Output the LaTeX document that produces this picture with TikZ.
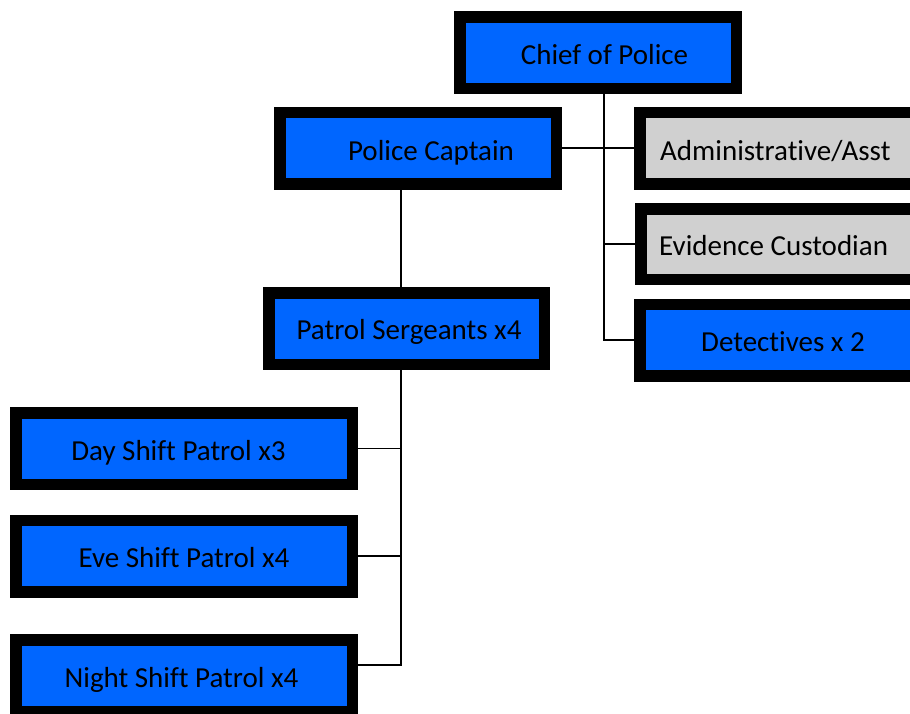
\documentclass[tikz,border=0pt]{standalone}
\usepackage{fontspec}
\setmainfont{Carlito}[Ligatures=NoCommon]
\definecolor{boxblue}{HTML}{0066FF}
\definecolor{boxgray}{HTML}{D0D0D0}
\begin{document}
\begin{tikzpicture}[x=1pt,y=-1pt,
  orgbox/.style={draw=black,line width=11.5pt,fill=boxblue,inner sep=0pt,minimum height=71.5pt},
  graybox/.style={orgbox,fill=boxgray},
  lbl/.style={anchor=base,inner sep=0pt,font=\fontsize{29}{34}\selectfont,text=black},
  lblL/.style={anchor=base west,inner sep=0pt,font=\fontsize{29}{34}\selectfont,text=black},
  conn/.style={draw=black,line width=1.8pt}]
\useasboundingbox (0,0) rectangle (910,713);
\clip (0,0) rectangle (910,713);
% boxes
\node[orgbox,minimum width=276.5pt] (chief) at (598,52.5) {};
\node[orgbox,minimum width=276.5pt] (capt) at (418,148) {};
\node[graybox,minimum width=276.5pt] (admin) at (778,148) {};
\node[graybox,minimum width=276.5pt,minimum height=70.5pt] (ev) at (779,244) {};
\node[orgbox,minimum width=276.5pt] (det) at (778,340) {};
\node[orgbox,minimum width=275.5pt] (serg) at (406.5,328.5) {};
\node[orgbox,minimum width=336.5pt] (day) at (184,448.5) {};
\node[orgbox,minimum width=336.5pt] (eve) at (184,556) {};
\node[orgbox,minimum width=336.5pt] (night) at (184,675.5) {};
% labels
\node[lbl] (tchief) at (604.5,64) {Chief of Police};
\node[lbl] (tcapt) at (431,160) {Police Captain};
\node[lblL] (tadmin) at (660,160) {Administrative/Asst};
\node[lblL] (tev) at (659,255) {Evidence Custodian};
\node[lbl] (tdet) at (783,351) {Detectives x 2};
\node[lbl] (tserg) at (409,339) {Patrol Sergeants x4};
\node[lbl] (tday) at (178.5,460) {Day Shift Patrol x3};
\node[lbl] (teve) at (184,567) {Eve Shift Patrol x4};
\node[lbl] (tnight) at (181.5,687) {Night Shift Patrol x4};
% connectors
\coordinate (cx) at (604,0);
\coordinate (sx) at (401,0);
\draw[conn] (chief.south -| cx) |- (det.west);
\draw[conn] (capt.east) -- (admin.west);
\draw[conn] (cx |- ev.west) -- (ev.west);
\draw[conn] (capt.south -| sx) -- (serg.north -| sx);
\draw[conn] (serg.south -| sx) |- ([yshift=10.5pt]night.east);
\draw[conn] (day.east) -- (day.east -| sx);
\draw[conn] (eve.east) -- (eve.east -| sx);
\end{tikzpicture}
\end{document}
